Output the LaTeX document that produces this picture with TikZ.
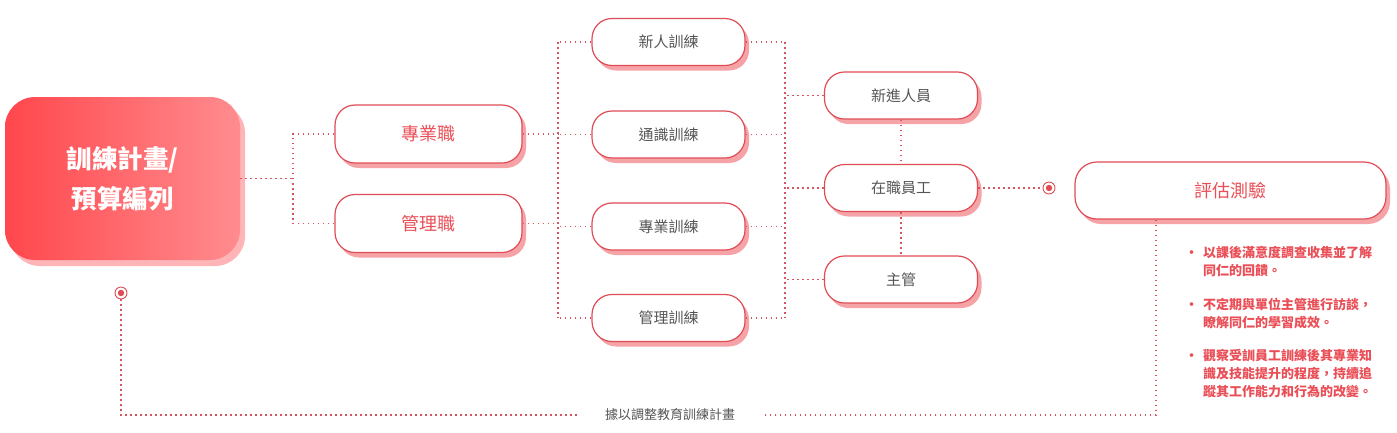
\documentclass[tikz,border=0pt]{standalone}
\usepackage{fontspec}
\setmainfont{Noto Sans CJK TC}
\usepackage{tikz}
\usetikzlibrary{positioning,shadows,calc}
\definecolor{boxred}{HTML}{E04C55}
\definecolor{shadowpink}{HTML}{F5A3A7}
\definecolor{txtred}{HTML}{EA4F57}
\definecolor{txtgray}{HTML}{555555}
\definecolor{dotred}{HTML}{D4555F}
\definecolor{mainl}{HTML}{FF474C}
\definecolor{mainr}{HTML}{FF8C8F}
\definecolor{mainshadow}{HTML}{FFB5B7}

\begin{document}
\begin{tikzpicture}[x=1pt,y=-1pt,
  plan/.style={rounded corners=30pt, minimum width=235pt, minimum height=163pt,
    left color=mainl, right color=mainr, align=center, text=white,
    general shadow={fill=mainshadow, shadow xshift=5pt, shadow yshift=-6pt},
    font=\fontsize{25.5}{40}\selectfont\bfseries},
  pill/.style={draw=boxred, line width=1.2pt, fill=white, rounded corners=20pt,
    minimum width=153pt, minimum height=47pt, text=txtgray,
    general shadow={fill=shadowpink, shadow xshift=4pt, shadow yshift=-5pt},
    font=\fontsize{15}{18}\selectfont},
  job/.style={pill, minimum width=187pt, minimum height=58pt, text=txtred,
    font=\fontsize{18}{20}\selectfont},
  evalbox/.style={job, minimum width=311pt, minimum height=57pt, rounded corners=22pt},
  tgt/.style={circle, draw=boxred, line width=0.9pt, minimum size=12pt, inner sep=0pt, fill=white,
    path picture={\fill[boxred] (path picture bounding box.center) circle (3.2pt);}},
  dotline/.style={draw=dotred, line width=1.6pt, dash pattern=on 1.6pt off 3.4pt},
  note/.style={inner sep=0pt, text=txtred, font=\fontsize{13}{18}\selectfont\bfseries},
  fbtext/.style={inner xsep=28pt, text=txtgray, font=\fontsize{13}{16}\selectfont}]
\useasboundingbox (0,0) rectangle (1397,432);

% left part
\node[plan] (plan) at (122.5,178.5) {訓練計畫/\\預算編列};
\node[job] (pro) at (428.5,134) {專業職};
\node[job] (mgr) at (428.5,223.5) {管理職};

% training courses
\foreach \n/\y/\txt in {new/42/新人訓練, gen/134.5/通識訓練, spec/226.5/專業訓練, lead/318/管理訓練}
  \node[pill] (\n) at (668.5,\y) {\txt};

% staff
\node[pill] (fresh) at (901,95.5) {新進人員};
\node[pill] (staff) at (901,188) {在職員工};
\node[pill] (boss) at (901,279.5) {主管};

% evaluation
\node[tgt] (t2) at (1049,188) {};
\node[evalbox] (eval) at (1230.5,190.5) {評估測驗};
\node[note, anchor=north west] (b1) at (1185,245)
  {\begin{tabular}{@{}l@{\hspace{5pt}}l@{}}•&以課後滿意度調查收集並了解\\&同仁的回饋。\end{tabular}};
\node[note, below=15pt of b1.south west, anchor=north west] (b2)
  {\begin{tabular}{@{}l@{\hspace{5pt}}l@{}}•&不定期與單位主管進行訪談，\\&瞭解同仁的學習成效。\end{tabular}};
\node[note, below=15pt of b2.south west, anchor=north west] (b3)
  {\begin{tabular}{@{}l@{\hspace{5pt}}l@{}}•&觀察受訓員工訓練後其專業知\\&識及技能提升的程度，持續追\\&蹤其工作能力和行為的改變。\end{tabular}};

% feedback loop
\node[tgt] (t1) at (121,293) {};
\node[fbtext] (fb) at (670,415) {據以調整教育訓練計畫};

\coordinate (j1) at (293,180);
\coordinate (ls) at (558,0);
\coordinate (rs) at (785,0);
\coordinate (c3) at (1156,415);

\draw[dotline] (plan.east) -- (plan.east -| j1);
\draw[dotline] (pro.west) -| (j1);
\draw[dotline] (mgr.west) -| (j1);
\draw[dotline] (pro.east) -- (pro.east -| ls);
\draw[dotline] (mgr.east) -- (mgr.east -| ls);
\foreach \n in {new,gen,spec,lead}
{
\draw[dotline] (\n.west) -- (\n.west -| ls);
\draw[dotline] (\n.east) -- (\n.east -| rs);
}
\draw[dotline] (new.west -| ls) -- (lead.west -| ls);
\draw[dotline] (new.east -| rs) -- (lead.east -| rs);
\foreach \n in {fresh,staff,boss}
  \draw[dotline] (\n.west) -- (\n.west -| rs);
\draw[dotline] (fresh) -- (staff);
\draw[dotline] (staff) -- (boss);
\draw[dotline] (staff.east) -- (t2);
\draw[dotline] (eval.south -| c3) -- (c3) -- (fb.east);
\draw[dotline] (t1) |- (fb.west);
\end{tikzpicture}
\end{document}
